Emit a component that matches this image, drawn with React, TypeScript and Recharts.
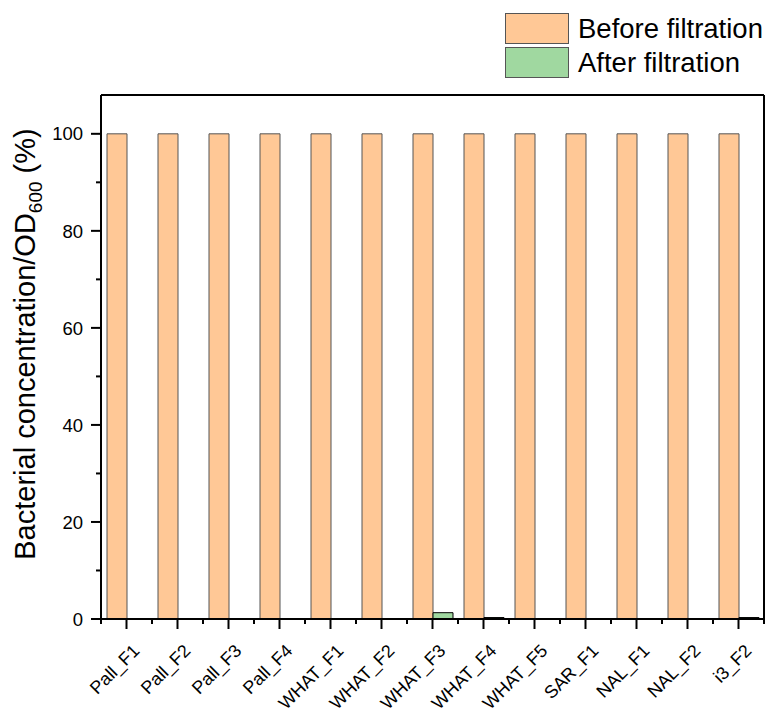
import React from 'react';
import { BarChart, Bar, XAxis, YAxis, ReferenceLine } from 'recharts';

const categories = [
  'Pall_F1', 'Pall_F2', 'Pall_F3', 'Pall_F4',
  'WHAT_F1', 'WHAT_F2', 'WHAT_F3', 'WHAT_F4', 'WHAT_F5',
  'SAR_F1', 'NAL_F1', 'NAL_F2', 'i3_F2',
];
const beforeValues = [100, 100, 100, 100, 100, 100, 100, 100, 100, 100, 100, 100, 100];
const afterValues = [0, 0, 0, 0, 0, 0, 1.3, 0.3, 0, 0, 0, 0, 0.3];
const yTicks = [0, 10, 20, 30, 40, 50, 60, 70, 80, 90, 100];
const legendItems = ['Before filtration', 'After filtration'];

const FONT = '"Liberation Sans", Arial, sans-serif';
const ORANGE = '#FFC896';
const GREEN = '#A0D8A0';
const EDGE = '#555555';
const Y_MAX = 108;

const data = categories.map((name, i) => ({
  name,
  before: beforeValues[i],
  after: afterValues[i],
}));

const HALF_BAND = 25.5;

const XTick = (props: any) => {
  const { x, y, payload } = props;
  const tx = x + 14;
  const ty = y + 33;
  return (
    <g>
      <line x1={x} y1={y} x2={x} y2={y + 10} stroke="#000" strokeWidth={2} />
      <line x1={x - HALF_BAND} y1={y} x2={x - HALF_BAND} y2={y + 5} stroke="#000" strokeWidth={2} />
      <line x1={x + HALF_BAND} y1={y} x2={x + HALF_BAND} y2={y + 5} stroke="#000" strokeWidth={2} />
      <text
        x={tx}
        y={ty}
        textAnchor="end"
        transform={`rotate(-45, ${tx}, ${ty})`}
        fontFamily={FONT}
        fontSize={18}
        fill="#000"
      >
        {payload.value}
      </text>
    </g>
  );
};

const YTick = (props: any) => {
  const { x, y, payload } = props;
  const major = payload.value % 20 === 0;
  return (
    <g>
      <line x1={x} y1={y} x2={x - (major ? 10 : 5)} y2={y} stroke="#000" strokeWidth={2} />
      {major && (
        <text
          x={x - 18}
          y={y}
          dy="0.36em"
          textAnchor="end"
          fontFamily={FONT}
          fontSize={18.5}
          fill="#000"
        >
          {payload.value}
        </text>
      )}
    </g>
  );
};

const YLabel = () => {
  const cy = 344;
  const cx = 35;
  return (
    <text
      x={cx}
      y={cy}
      textAnchor="middle"
      transform={`rotate(-90, ${cx}, ${cy})`}
      fontFamily={FONT}
      fontSize={29}
      fill="#000"
    >
      Bacterial concentration/OD
      <tspan fontSize={19} dy={7}>600</tspan>
      <tspan dy={-7}> (%)</tspan>
    </text>
  );
};

const LegendBox = () => (
  <div
    style={{
      position: 'absolute',
      left: 505,
      top: 13,
      fontFamily: FONT,
      fontSize: 27.5,
      lineHeight: 1,
    }}
  >
    {legendItems.map((label, i) => (
      <div key={label} style={{ display: 'flex', alignItems: 'center', height: 31, marginBottom: 3 }}>
        <div
          style={{
            width: 62,
            height: 29,
            background: i === 0 ? ORANGE : GREEN,
            border: `1px solid ${EDGE}`,
            marginRight: 9,
            flexShrink: 0,
          }}
        />
        <span style={{ whiteSpace: 'nowrap' }}>{label}</span>
      </div>
    ))}
  </div>
);

export default function App() {
  return (
    <div style={{ position: 'absolute', left: 0, top: 0, width: 766, height: 717, background: '#fff' }}>
      <BarChart
        width={766}
        height={717}
        data={data}
        margin={{ top: 95, right: 1, bottom: 0, left: 0 }}
        barCategoryGap={11}
        barGap={0}
      >
        <XAxis
          dataKey="name"
          height={98}
          axisLine={{ stroke: '#000', strokeWidth: 2 }}
          tickLine={false}
          tickSize={0}
          tickMargin={0}
          interval={0}
          tick={<XTick />}
        />
        <YAxis
          width={101}
          domain={[0, Y_MAX]}
          ticks={yTicks}
          allowDataOverflow
          axisLine={{ stroke: '#000', strokeWidth: 2 }}
          tickLine={false}
          tickSize={0}
          tickMargin={0}
          tick={<YTick />}
          label={{ content: <YLabel /> }}
        />
        <YAxis
          yAxisId="right"
          orientation="right"
          width={1}
          domain={[0, Y_MAX]}
          ticks={[]}
          axisLine={{ stroke: '#000', strokeWidth: 2 }}
          tick={false}
          tickLine={false}
        />
        <ReferenceLine y={Y_MAX} stroke="#000" strokeWidth={2} ifOverflow="extendDomain" />
        <Bar dataKey="before" name="Before filtration" fill={ORANGE} stroke={EDGE} strokeWidth={1} barSize={20} isAnimationActive={false} />
        <Bar dataKey="after" name="After filtration" fill={GREEN} stroke="#000" strokeWidth={1} barSize={20} isAnimationActive={false} />
      </BarChart>
      <LegendBox />
    </div>
  );
}
